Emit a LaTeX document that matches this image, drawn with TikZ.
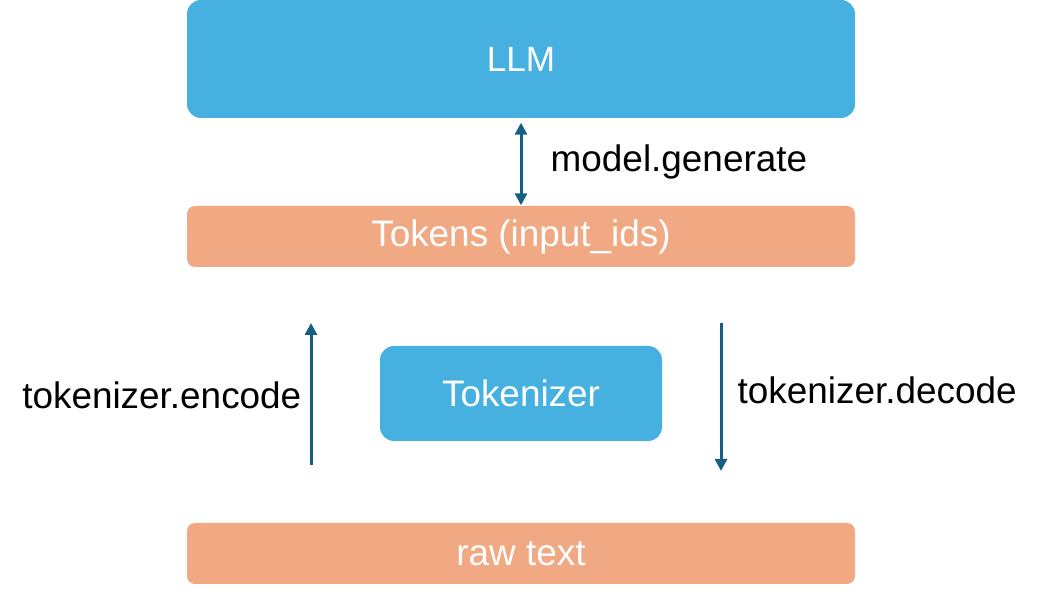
\documentclass[tikz,border=0pt]{standalone}
\usepackage{fontspec}
\setmainfont{Liberation Sans}
\usetikzlibrary{arrows.meta}
\definecolor{boxblue}{HTML}{46B1E1}
\definecolor{boxorange}{HTML}{F1A983}
\definecolor{arrowblue}{HTML}{156082}

\tikzset{
  bluebox/.style = {fill=boxblue, rounded corners=1.4mm, text=white, font=\fontsize{10.5}{12}\selectfont},
  orangebox/.style = {fill=boxorange, rounded corners=0.8mm, text=white, font=\fontsize{10.5}{12}\selectfont,
    minimum width=6.68cm, minimum height=0.61cm},
  flow/.style = {draw=arrowblue, line width=0.85pt, -{Triangle[length=1.2mm,width=1.2mm]}},
  lbl/.style = {inner sep=0pt, font=\fontsize{10.5}{12}\selectfont}
}

\begin{document}
\begin{tikzpicture}[x=0.1mm, y=-0.1mm]
\useasboundingbox (0,0) rectangle (1042,601);
% boxes
\path (521,59) node[bluebox, minimum width=6.68cm, minimum height=1.18cm] (llm) {\fontsize{10}{12}\selectfont LLM};
\path (521,236.5) node[orangebox] (tokens) {Tokens (input\_ids)};
\path (521,393.5) node[bluebox, minimum width=2.82cm, minimum height=0.95cm] (tokenizer) {Tokenizer};
\path (521,553.5) node[orangebox] (rawtext) {raw text};
% arrows
\coordinate (encstart) at (311,465);
\coordinate (encend) at (311,323);
\coordinate (decstart) at (721,323);
\coordinate (decend) at (721,471);
\draw[flow, {Triangle[length=1.2mm,width=1.2mm]}-{Triangle[length=1.2mm,width=1.2mm]}] ([yshift=-0.4mm]llm.south) -- (tokens.north);
\draw[flow] (encstart) -- (encend);
\draw[flow] (decstart) -- (decend);
% labels
\node[lbl, anchor=west] (genlbl) at (550,162) {model.generate};
\node[lbl, anchor=east] (enclbl) at (302,395) {tokenizer.encode};
\node[lbl, anchor=west] (declbl) at (737,390) {tokenizer.decode};
\end{tikzpicture}
\end{document}
